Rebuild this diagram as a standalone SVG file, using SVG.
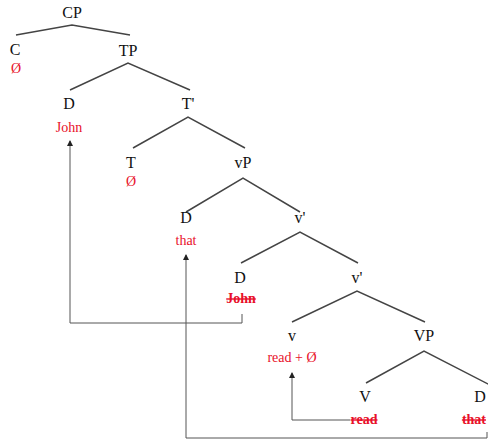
<svg xmlns="http://www.w3.org/2000/svg" width="488" height="442" viewBox="0 0 488 442">
<defs>
<style>
.l{font-family:"Liberation Serif","Times New Roman",serif;font-size:16px;fill:#111;text-anchor:middle}
.r{font-family:"Liberation Serif","Times New Roman",serif;font-size:14px;fill:#e8102a;text-anchor:middle}
.s{text-decoration:line-through;font-weight:bold}
.e{stroke:#444;stroke-width:1.5;fill:none}
.m{stroke:#555;stroke-width:1;fill:none}
</style>
<marker id="ah" markerWidth="6" markerHeight="6" refX="5" refY="3" orient="auto" markerUnits="userSpaceOnUse" viewBox="0 0 6 6">
<path d="M0,0 L6,3 L0,6 Z" fill="#222"/>
</marker>
</defs>
<rect width="488" height="442" fill="#fff"/>
<g id="edges">
<path class="e" d="M16,35 L72,25 L130,35"/>
<path class="e" d="M70,90 L128,63 L190,90"/>
<path class="e" d="M133,148 L188,117 L245,148"/>
<path class="e" d="M186,212 L243,178 L300,212"/>
<path class="e" d="M241,263 L300,232 L358,263"/>
<path class="e" d="M292,322 L357,291 L425,322"/>
<path class="e" d="M366,383 L424,351 L490,385"/>
</g>
<g id="nodes">
<g id="CP"><text class="l" x="72" y="18">CP</text></g>
<g id="C"><text class="l" x="15" y="55">C</text><text class="r" x="16" y="73">Ø</text></g>
<g id="TP"><text class="l" x="128" y="56">TP</text></g>
<g id="D1"><text class="l" x="69" y="109">D</text><text class="r" x="69" y="132">John</text></g>
<g id="Tbar"><text class="l" x="188" y="109">T'</text></g>
<g id="T"><text class="l" x="131" y="168">T</text><text class="r" x="131" y="186">Ø</text></g>
<g id="vP"><text class="l" x="243" y="168">vP</text></g>
<g id="D2"><text class="l" x="186" y="223">D</text><text class="r" x="186" y="245">that</text></g>
<g id="vbar1"><text class="l" x="300" y="223">v'</text></g>
<g id="D3"><text class="l" x="240" y="283">D</text><text class="r s" x="241" y="303">John</text></g>
<g id="vbar2"><text class="l" x="357" y="283">v'</text></g>
<g id="v"><text class="l" x="292" y="341">v</text><text class="r" x="292" y="362">read + Ø</text></g>
<g id="VP"><text class="l" x="424" y="341">VP</text></g>
<g id="V"><text class="l" x="365" y="402">V</text><text class="r s" x="364" y="424">read</text></g>
<g id="D4"><text class="l" x="480" y="402">D</text><text class="r s" x="486" y="424" style="text-anchor:end">that</text></g>
</g>
<g id="connectors">
<path class="m" d="M242,314 L242,323 L70,323 L70,141" marker-end="url(#ah)"/>
<path class="m" d="M487,432 L487,438 L186,438 L186,255" marker-end="url(#ah)"/>
<path class="m" d="M350,420 L292,420 L292,373" marker-end="url(#ah)"/>
</g>
</svg>
